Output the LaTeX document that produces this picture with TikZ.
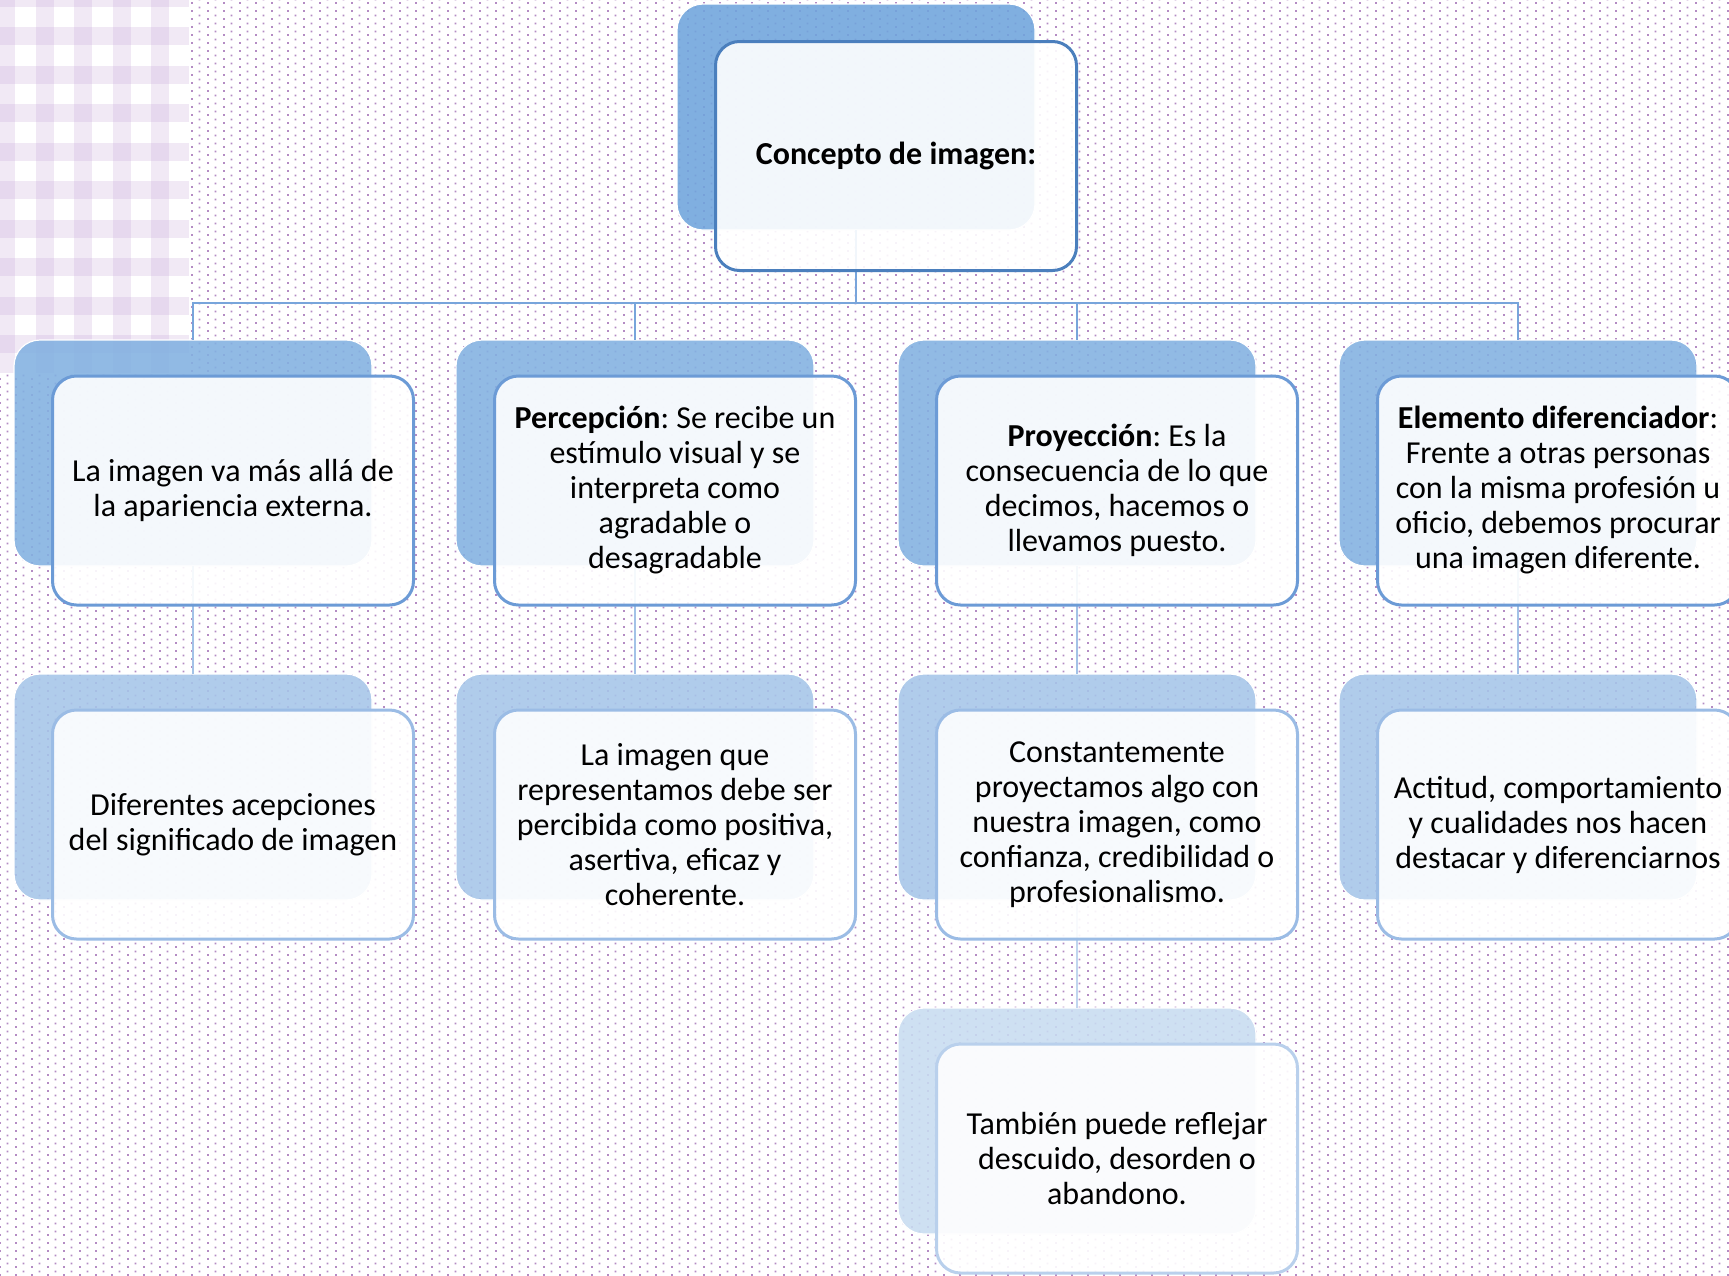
\documentclass[tikz,border=0pt]{standalone}
\usepackage{fontspec}
\setmainfont{Carlito}
\frenchspacing
\usetikzlibrary{patterns}
\definecolor{dotc}{HTML}{B48CC4}
\definecolor{checkc}{HTML}{C6A6D8}
\definecolor{topback}{HTML}{6FA4DC}
\definecolor{backa}{HTML}{82B1E1}
\definecolor{backb}{HTML}{A6C5E9}
\definecolor{backc}{HTML}{C8DCF1}
\definecolor{topborder}{HTML}{4B7FBD}
\definecolor{bordera}{HTML}{6C9BD6}
\definecolor{borderb}{HTML}{9BBCE5}
\definecolor{borderc}{HTML}{B9D0EC}
\definecolor{conna}{HTML}{78A5DB}
\definecolor{connb}{HTML}{A3C2E7}
\definecolor{connc}{HTML}{C0D6EF}
\pgfdeclarepatterninherentlycolored{pdots}{\pgfpointorigin}{\pgfpoint{8pt}{4pt}}{\pgfpoint{8pt}{4pt}}{%
  \pgfsetfillcolor{dotc}%
  \pgfpathrectangle{\pgfpoint{0pt}{0pt}}{\pgfpoint{1pt}{1pt}}%
  \pgfpathrectangle{\pgfpoint{4pt}{2pt}}{\pgfpoint{1pt}{1pt}}%
  \pgfusepath{fill}}
\begin{document}
\begin{tikzpicture}[x=0.5pt,y=-0.5pt,
  backbox/.style={rectangle, rounded corners=13pt, minimum width=179pt, minimum height=113pt,
    inner sep=0pt, outer sep=0pt, fill opacity=0.88, draw=white, line width=0.6pt},
  frontbox/.style={rectangle, rounded corners=12pt, minimum width=180.5pt, minimum height=114.5pt,
    inner sep=2pt, outer sep=0pt, fill=white, fill opacity=0.9, text opacity=1, line width=1.5pt,
    align=center, font=\fontsize{16}{17.5}\selectfont, text=black},
  conn/.style={line width=1.25pt},
]
\useasboundingbox (0,0) rectangle (1729,1275);
\fill[white] (0,0) rectangle (1729,1275);
\fill[pattern=pdots] (0,0) rectangle (1729,1275);
% gingham corner
\begin{scope}
  \clip (0,0) rectangle (189,373);
  \fill[white] (0,0) rectangle (189,373);
  \foreach \i in {0,...,5} {
    \fill[checkc, fill opacity=0.24] ({-3+38.5*\i},0) rectangle ({15+38.5*\i},373);
  }
  \foreach \j in {0,...,10} {
    \fill[checkc, fill opacity=0.24] (0,{-11.5+38.5*\j}) rectangle (189,{6.5+38.5*\j});
  }
\end{scope}
% back boxes
\node[backbox, fill=topback] (tb) at (856,117) {};
\node[backbox, fill=backa] (b11) at (193,453) {};
\node[backbox, fill=backa] (b12) at (635,453) {};
\node[backbox, fill=backa] (b13) at (1077,453) {};
\node[backbox, fill=backa] (b14) at (1518,453) {};
\node[backbox, fill=backb] (b21) at (193,787) {};
\node[backbox, fill=backb] (b22) at (635,787) {};
\node[backbox, fill=backb] (b23) at (1077,787) {};
\node[backbox, fill=backb] (b24) at (1518,787) {};
\node[backbox, fill=backc] (b33) at (1077,1121) {};
% connectors
\foreach \k in {1,2,3,4} {
  \draw[conn, draw=conna] (tb.south) -- ++(0,73) -| (b1\k.north);
  \draw[conn, draw=connb] (b1\k.south) -- (b2\k.north);
}
\draw[conn, draw=connc] (b23.south) -- (b33.north);
% front boxes
\node[frontbox, draw=topborder] (tf) at (896,156) {\textbf{Concepto de imagen:}};
\node[frontbox, draw=bordera] (f11) at (233,490.5) {La imagen va más allá de\\la apariencia externa.};
\node[frontbox, draw=bordera] (f12) at (675,490.5) {\textbf{Percepción}: Se recibe un\\estímulo visual y se\\interpreta como\\agradable o\\desagradable};
\node[frontbox, draw=bordera] (f13) at (1117,490.5) {\textbf{Proyección}: Es la\\consecuencia de lo que\\decimos, hacemos o\\llevamos puesto.};
\node[frontbox, draw=bordera] (f14) at (1558,490.5) {\textbf{Elemento diferenciador}:\\Frente a otras personas\\con la misma profesión u\\oficio, debemos procurar\\una imagen diferente.};
\node[frontbox, draw=borderb] (f21) at (233,824.5) {Diferentes acepciones\\del significado de imagen};
\node[frontbox, draw=borderb] (f22) at (675,824.5) {La imagen que\\representamos debe ser\\percibida como positiva,\\asertiva, eficaz y\\coherente.};
\node[frontbox, draw=borderb] (f23) at (1117,824.5) {Constantemente\\proyectamos algo con\\nuestra imagen, como\\confianza, credibilidad o\\profesionalismo.};
\node[frontbox, draw=borderb] (f24) at (1558,824.5) {Actitud, comportamiento\\y cualidades nos hacen\\destacar y diferenciarnos};
\node[frontbox, draw=borderc] (f33) at (1117,1158.5) {También puede reflejar\\descuido, desorden o\\abandono.};
\end{tikzpicture}
\end{document}
